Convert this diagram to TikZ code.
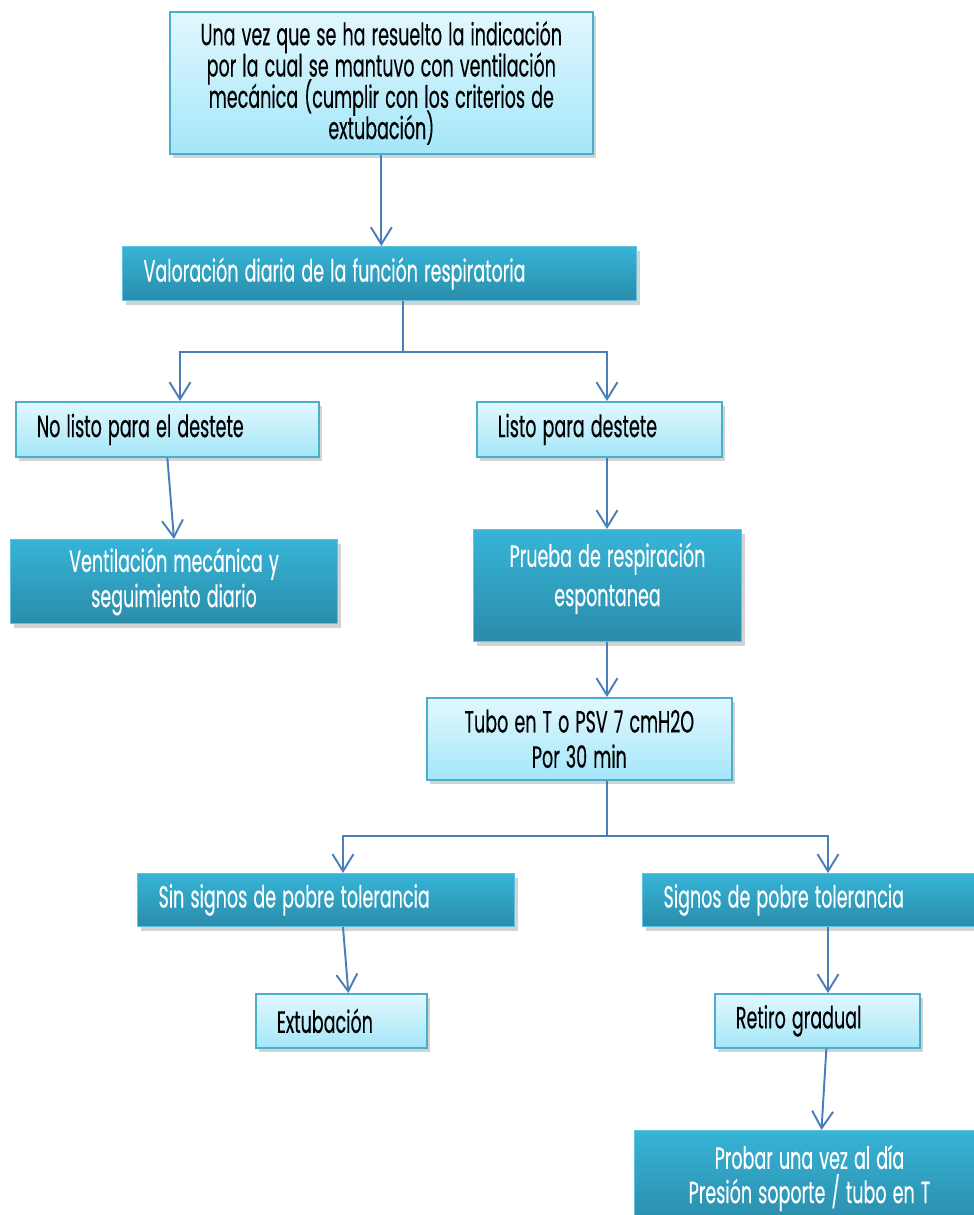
\documentclass[tikz,border=0pt]{standalone}
\usepackage{fontspec}
\setmainfont{Poppins}[FakeStretch=0.57,FakeBold=0.3,WordSpace=1.3]
\usepackage{xcolor}
\usepackage{tikz}
\usetikzlibrary{arrows.meta,positioning,shadows}
\definecolor{LineBlue}{HTML}{4A7EBB}
\definecolor{DarkTop}{HTML}{37B4D7}
\definecolor{DarkBot}{HTML}{2A8CAA}
\definecolor{LightTop}{HTML}{E2F8FE}
\definecolor{LightBot}{HTML}{A4E6F9}
\definecolor{EdgeBlue}{HTML}{4BAECB}
\protected\def\boxfont{\fontsize{17.5}{17.8}\selectfont
  \lineskiplimit=-20pt\relax\lineskip=0pt\relax}

\begin{document}
\begin{tikzpicture}[
  x=0.02cm,y=-0.02cm,
  box/.style={anchor=north west,inner xsep=0.42cm,inner ysep=0pt,
    font=\boxfont,
    drop shadow={opacity=0.35,shadow xshift=2pt,shadow yshift=-2.5pt}},
  light/.style={box,draw=EdgeBlue,line width=1pt,top color=LightTop,bottom color=LightBot},
  dark/.style={box,draw=DarkTop!80!white,line width=0.6pt,top color=DarkTop,bottom color=DarkBot,text=white},
  a/.style={-{Straight Barb[length=0.34cm,width=0.42cm]},line width=1.1pt,color=LineBlue},
  l/.style={line width=1.1pt,color=LineBlue}
]
  \useasboundingbox (0,0) rectangle (974,1215);
  % boxes
  \node[light,minimum width=8.46cm,minimum height=2.84cm,align=center] (inicio) at (169,11)
    {Una vez que se ha resuelto la indicación\\por la cual se mantuvo con ventilación\\mecánica (cumplir con los criterios de\\extubación)};
  \node[dark,minimum width=10.28cm,minimum height=1.08cm,text width=9.44cm,align=flush left] (valora) at (122,246)
    {Valoración diaria de la función respiratoria};
  \node[light,minimum width=6.06cm,minimum height=1.1cm,text width=5.22cm,align=flush left] (nolisto) at (15,401)
    {No listo para el destete};
  \node[light,minimum width=4.9cm,minimum height=1.1cm,text width=4.06cm,align=flush left] (listo) at (476,401)
    {Listo para destete};
  \node[dark,minimum width=6.54cm,minimum height=1.68cm,align=center] (ventila) at (10,539)
    {Ventilación mecánica y\\[0.08cm]seguimiento diario};
  \node[dark,minimum width=5.36cm,minimum height=2.24cm,align=center,text depth=0.45cm] (prueba) at (473,529)
    {Prueba de respiración\\[0.16cm]espontanea};
  \node[light,minimum width=6.1cm,minimum height=1.64cm,align=center] (tubo) at (426,697)
    {Tubo en T o PSV 7 cmH2O\\[0.08cm]Por 30 min};
  \node[dark,minimum width=7.54cm,minimum height=1.06cm,text width=6.7cm,align=flush left] (sinsignos) at (137,873)
    {Sin signos de pobre tolerancia};
  \node[dark,minimum width=6.9cm,minimum height=1.06cm,text width=6.06cm,align=flush left] (signos) at (642,873)
    {Signos de pobre tolerancia};
  \node[light,minimum width=3.42cm,minimum height=1.08cm,text width=2.58cm,align=flush left] (extuba) at (255,993)
    {Extubación};
  \node[light,minimum width=4.1cm,minimum height=1.08cm,text width=3.26cm,align=flush left] (retiro) at (714,993)
    {Retiro gradual};
  \node[dark,minimum width=7cm,minimum height=1.9cm,align=center] (probar) at (634,1130)
    {Probar una vez al día\\[0.06cm]Presión soporte / tubo en T};

  % branch points
  \coordinate (j1) at (403,352);
  \coordinate (b1) at (180,352);
  \coordinate (b2) at (607,352);
  \coordinate (j2) at (607,836);
  \coordinate (b3) at (343,836);
  \coordinate (b4) at (828,836);

  % connectors
  \draw[a] (inicio.south) -- (inicio.south |- valora.north);
  \draw[l] (j1 |- valora.south) -- (j1);
  \draw[a] (j1) -| (b1 |- nolisto.north);
  \draw[a] (j1) -| (b2 |- listo.north);
  \draw[a] (nolisto.south) -- (ventila.north);
  \draw[a] (b2 |- listo.south) -- (b2 |- prueba.north);
  \draw[a] (b2 |- prueba.south) -- (b2 |- tubo.north);
  \draw[l] (j2 |- tubo.south) -- (j2);
  \draw[a] (j2) -| (b3 |- sinsignos.north);
  \draw[a] (j2) -| (b4 |- signos.north);
  \draw[a] (b3 |- sinsignos.south) -- ([xshift=0.14cm]extuba.north);
  \draw[a] (b4 |- signos.south) -- (b4 |- retiro.north);
  \draw[a] ([xshift=0.18cm]retiro.south) -- ([xshift=0.24cm]probar.north);
\end{tikzpicture}
\end{document}
